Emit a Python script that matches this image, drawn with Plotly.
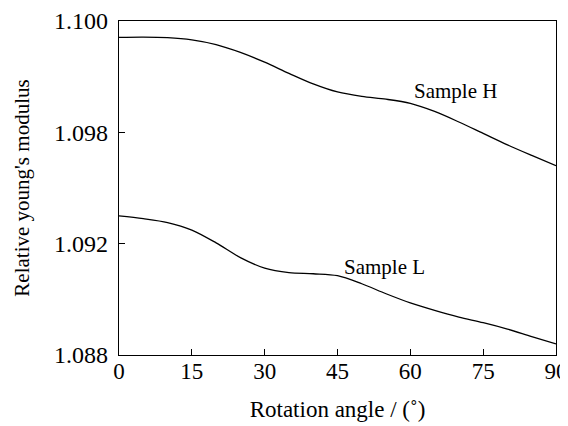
import plotly.graph_objects as go

angle = [0, 5, 10, 15, 20, 25, 30, 35, 40, 45, 50, 55, 60, 65, 70, 75, 80, 85, 90]
sample_h = [1.09941, 1.09942, 1.09940, 1.09932, 1.09915, 1.09887, 1.09852, 1.09812,
            1.09774, 1.09745, 1.09729, 1.09719, 1.09704, 1.09675, 1.09637, 1.09596,
            1.09555, 1.09517, 1.09480]
sample_l = [1.09300, 1.09290, 1.09276, 1.09249, 1.09203, 1.09150, 1.09112, 1.09096,
            1.09092, 1.09085, 1.09056, 1.09020, 1.08987, 1.08960, 1.08936, 1.08916,
            1.08893, 1.08866, 1.08840]

x_ticks = [0, 15, 30, 45, 60, 75, 90]
y_tickvals = [1.088, 1.092, 1.096, 1.100]
y_ticktext = ["1.088", "1.092", "1.098", "1.100"]

FONT = "Liberation Serif"

fig = go.Figure()
fig.add_trace(go.Scatter(x=angle, y=sample_h, mode="lines", name="Sample H",
                         line=dict(color="black", width=1.3, shape="spline", smoothing=0.9)))
fig.add_trace(go.Scatter(x=angle, y=sample_l, mode="lines", name="Sample L",
                         line=dict(color="black", width=1.3, shape="spline", smoothing=0.9)))

fig.add_annotation(x=69.4, y=1.09748, text="Sample H", showarrow=False,
                   font=dict(family=FONT, size=21, color="black"))
fig.add_annotation(x=54.7, y=1.09117, text="Sample L", showarrow=False,
                   font=dict(family=FONT, size=21, color="black"))

# page body has an 8px margin, so the figure is drawn 8px smaller and offset
fig.update_layout(
    width=560, height=418,
    margin=dict(l=111, r=12, t=13, b=71),
    paper_bgcolor="white", plot_bgcolor="white",
    showlegend=False,
    font=dict(family=FONT, size=23, color="black"),
)
fig.update_xaxes(
    range=[0, 90], tickvals=x_ticks, ticks="inside", ticklen=6, tickwidth=1,
    tickcolor="black", showline=True, linecolor="black", linewidth=1.3, mirror=True,
    showgrid=False, zeroline=False, tickfont=dict(family=FONT, size=23),
    ticklabelstandoff=-5,
    title=dict(text="Rotation angle / (\u02da)", font=dict(family=FONT, size=23), standoff=18),
    automargin=False,
)
fig.update_yaxes(
    range=[1.088, 1.100], tickvals=y_tickvals, ticktext=y_ticktext, ticks="inside",
    ticklen=6, tickwidth=1, tickcolor="black", showline=True, linecolor="black",
    linewidth=1.3, mirror=True, showgrid=False, zeroline=False,
    tickfont=dict(family=FONT, size=24), ticklabelstandoff=5,
    title=dict(text="Relative young's modulus", font=dict(family=FONT, size=21), standoff=18),
    automargin=False,
)

fig.write_html("out.html")
